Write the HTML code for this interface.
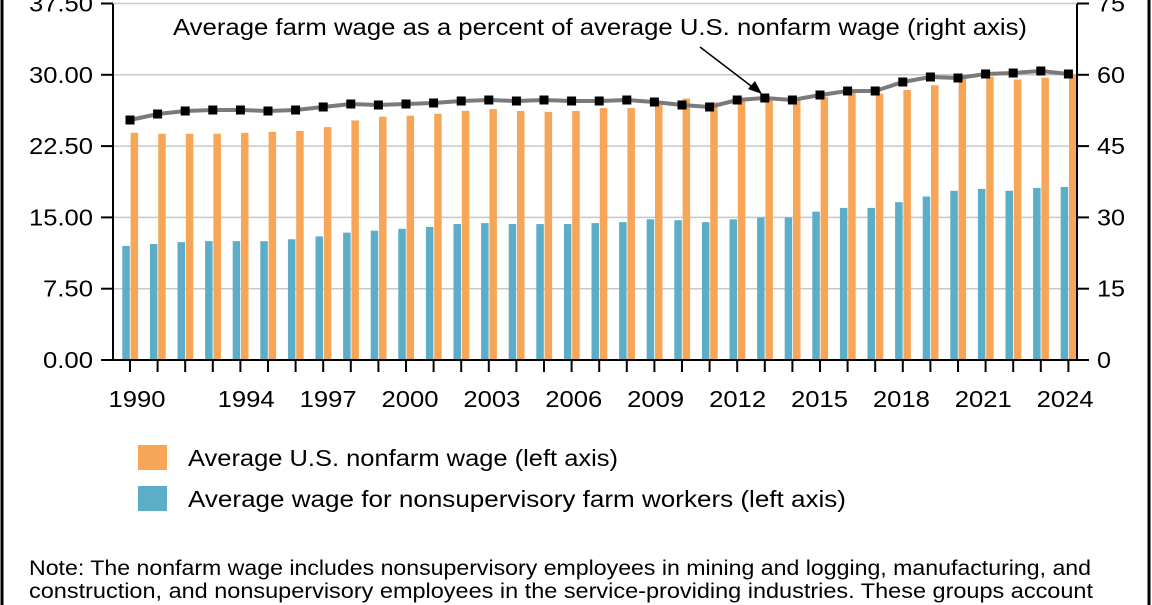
<!DOCTYPE html>
<html><head><meta charset="utf-8"><style>
html,body{margin:0;padding:0;background:#fff;}
svg{display:block;font-family:"Liberation Sans",sans-serif;}
</style></head><body>
<svg id="s" width="1152" height="605" viewBox="0 0 1152 605" xmlns="http://www.w3.org/2000/svg">
<rect x="0" y="0" width="1152" height="605" fill="#fff"/>
<line x1="2" y1="0" x2="2" y2="605" stroke="#000" stroke-width="3"/>
<line x1="1149" y1="0" x2="1149" y2="605" stroke="#000" stroke-width="3"/>
<g id="grid" stroke="#c8c8c8" stroke-width="1.5"></g>
<g id="bars"></g>
<g id="axes" stroke="#000" stroke-width="2"></g>
<g id="labels" font-size="23" fill="#000"></g>
<polyline id="ln" fill="none" stroke="#7a7a7a" stroke-width="4"/>
<g id="mk"></g>
<text x="173" y="35" font-size="23" textLength="854" lengthAdjust="spacingAndGlyphs">Average farm wage as a percent of average U.S. nonfarm wage (right axis)</text>
<line x1="700" y1="47" x2="755" y2="89" stroke="#000" stroke-width="1.5"/>
<polygon points="762,94 748,89 755,81" fill="#000"/>
<rect x="138" y="445" width="29" height="25" fill="#f7a657"/>
<text x="188" y="466" font-size="23" textLength="430" lengthAdjust="spacingAndGlyphs">Average U.S. nonfarm wage (left axis)</text>
<rect x="138" y="486" width="29" height="25" fill="#5badc8"/>
<text x="188" y="507" font-size="23" textLength="658" lengthAdjust="spacingAndGlyphs">Average wage for nonsupervisory farm workers (left axis)</text>
<text x="29" y="575" font-size="21" textLength="1062" lengthAdjust="spacingAndGlyphs">Note: The nonfarm wage includes nonsupervisory employees in mining and logging, manufacturing, and</text>
<text x="29" y="598" font-size="21" textLength="1064" lengthAdjust="spacingAndGlyphs">construction, and nonsupervisory employees in the service-providing industries. These groups account</text>
</svg>
<script>
const NS="http://www.w3.org/2000/svg";
function el(p,t,a,txt){const e=document.createElementNS(NS,t);for(const k in a)e.setAttribute(k,a[k]);if(txt!==undefined)e.textContent=txt;document.getElementById(p).appendChild(e);return e;}
const y0=360,ppu=356.5/37.5;
const blue=[12.0,12.2,12.4,12.5,12.5,12.5,12.7,13.0,13.4,13.6,13.8,14.0,14.3,14.4,14.3,14.3,14.3,14.4,14.5,14.8,14.7,14.5,14.8,15.0,15.0,15.6,16.0,16.0,16.6,17.2,17.8,18.0,17.8,18.1,18.2];
const orng=[23.9,23.8,23.8,23.8,23.9,24.0,24.1,24.5,25.2,25.6,25.7,25.9,26.2,26.4,26.2,26.1,26.2,26.5,26.5,27.0,27.5,27.1,27.3,27.4,27.4,27.7,28.1,28.0,28.4,28.9,29.6,29.8,29.5,29.7,30.1];
const ly=[120,114,111,110,110,111,110,107,104,105,104,103,101,100,101,100,101,101,100,102,105,107,100,98,100,95,91,91,82,77,78,74,73,71,74];
for(let i=0;i<6;i++){const y=y0-i*7.5*ppu;if(i>0)el("grid","line",{x1:113,x2:1077,y1:y,y2:y});
el("axes","line",{x1:101,x2:113,y1:y,y2:y});el("axes","line",{x1:1077,x2:1089,y1:y,y2:y});
const s=(i*7.5).toFixed(2);
el("labels","text",{x:93,y:y+8,"text-anchor":"end",textLength:s.length==5?64:50,lengthAdjust:"spacingAndGlyphs"},s);
const r=String(i*15);
el("labels","text",{x:1097,y:y+8,textLength:r.length==2?28:14,lengthAdjust:"spacingAndGlyphs"},r);}
let pts=[];
for(let i=0;i<35;i++){const x=130+27.6*i;
el("bars","rect",{x:x-7.7,y:y0-blue[i]*ppu,width:7.5,height:blue[i]*ppu,fill:"#5badc8"});
el("bars","rect",{x:x+0.6,y:y0-orng[i]*ppu,width:7.5,height:orng[i]*ppu,fill:"#f7a657"});
el("axes","line",{x1:x,x2:x,y1:y0,y2:y0+12});
pts.push(x+","+ly[i]);
el("mk","rect",{x:x-4.5,y:ly[i]-4.5,width:9,height:9,fill:"#000"});}
document.getElementById("ln").setAttribute("points",pts.join(" "));
el("axes","line",{x1:113,x2:113,y1:4,y2:y0+1});
el("axes","line",{x1:1077,x2:1077,y1:4,y2:y0+1});
el("axes","line",{x1:112,x2:1078,y1:y0,y2:y0});
[[0,"1990"],[4,"1994"],[7,"1997"],[10,"2000"],[13,"2003"],[16,"2006"],[19,"2009"],[22,"2012"],[25,"2015"],[28,"2018"],[31,"2021"],[34,"2024"]].forEach(([i,t])=>{
el("labels","text",{x:137+27.3*i-28.5,y:407,textLength:57,lengthAdjust:"spacingAndGlyphs"},t);});
</script>
</body></html>
